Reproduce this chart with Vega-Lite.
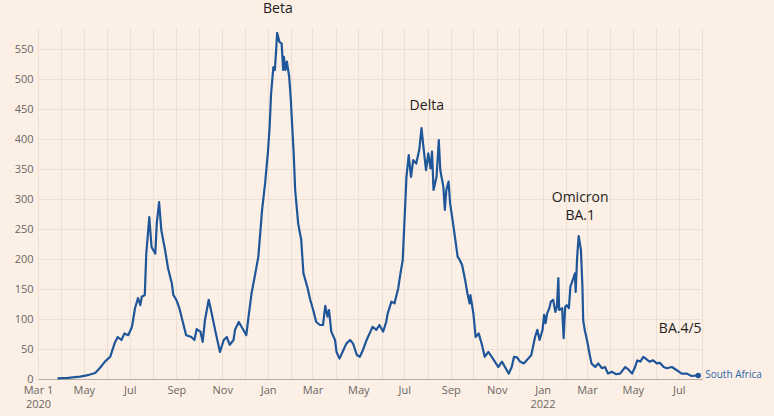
{
  "$schema": "https://vega.github.io/schema/vega-lite/v6.json",
  "autosize": "none",
  "width": 664,
  "height": 351,
  "padding": {"left": 38, "top": 28, "right": 72, "bottom": 37},
  "background": "#fcf0e6",
  "config": {
    "view": {"stroke": null},
    "axis": {"labelFont": "Open Sans", "labelFontSize": 11, "labelColor": "#6b6561", "gridColor": "#eddfd4", "gridWidth": 1, "ticks": false, "title": null}
  },
  "datasets": {
    "series": [
      {"date": "2020-03-27", "value": 1}, {"date": "2020-04-10", "value": 2}, {"date": "2020-04-26", "value": 4}, {"date": "2020-05-08", "value": 7},
      {"date": "2020-05-16", "value": 10}, {"date": "2020-05-22", "value": 18}, {"date": "2020-05-29", "value": 29}, {"date": "2020-06-05", "value": 37},
      {"date": "2020-06-11", "value": 60}, {"date": "2020-06-15", "value": 70}, {"date": "2020-06-20", "value": 65}, {"date": "2020-06-24", "value": 76},
      {"date": "2020-06-29", "value": 73}, {"date": "2020-07-04", "value": 87}, {"date": "2020-07-08", "value": 118}, {"date": "2020-07-12", "value": 135},
      {"date": "2020-07-15", "value": 123}, {"date": "2020-07-17", "value": 137}, {"date": "2020-07-21", "value": 140}, {"date": "2020-07-23", "value": 209},
      {"date": "2020-07-27", "value": 270}, {"date": "2020-07-30", "value": 220}, {"date": "2020-08-04", "value": 209}, {"date": "2020-08-06", "value": 260},
      {"date": "2020-08-09", "value": 295}, {"date": "2020-08-12", "value": 248}, {"date": "2020-08-17", "value": 215}, {"date": "2020-08-21", "value": 184},
      {"date": "2020-08-26", "value": 159}, {"date": "2020-08-28", "value": 140}, {"date": "2020-09-01", "value": 132}, {"date": "2020-09-05", "value": 118},
      {"date": "2020-09-10", "value": 93}, {"date": "2020-09-14", "value": 73}, {"date": "2020-09-21", "value": 70}, {"date": "2020-09-25", "value": 65},
      {"date": "2020-09-28", "value": 83}, {"date": "2020-10-03", "value": 79}, {"date": "2020-10-06", "value": 62}, {"date": "2020-10-09", "value": 98},
      {"date": "2020-10-14", "value": 132}, {"date": "2020-10-18", "value": 109}, {"date": "2020-10-23", "value": 79}, {"date": "2020-10-29", "value": 45},
      {"date": "2020-11-03", "value": 65}, {"date": "2020-11-07", "value": 70}, {"date": "2020-11-11", "value": 57}, {"date": "2020-11-16", "value": 65},
      {"date": "2020-11-18", "value": 82}, {"date": "2020-11-23", "value": 95}, {"date": "2020-11-29", "value": 82}, {"date": "2020-12-03", "value": 73},
      {"date": "2020-12-06", "value": 104}, {"date": "2020-12-10", "value": 143}, {"date": "2020-12-15", "value": 176}, {"date": "2020-12-19", "value": 204},
      {"date": "2020-12-24", "value": 282}, {"date": "2020-12-28", "value": 326}, {"date": "2021-01-01", "value": 382}, {"date": "2021-01-03", "value": 420},
      {"date": "2021-01-05", "value": 476}, {"date": "2021-01-08", "value": 520}, {"date": "2021-01-10", "value": 515}, {"date": "2021-01-12", "value": 554},
      {"date": "2021-01-13", "value": 577}, {"date": "2021-01-16", "value": 562}, {"date": "2021-01-19", "value": 559}, {"date": "2021-01-21", "value": 515},
      {"date": "2021-01-22", "value": 537}, {"date": "2021-01-24", "value": 515}, {"date": "2021-01-26", "value": 529}, {"date": "2021-01-29", "value": 504},
      {"date": "2021-01-31", "value": 470}, {"date": "2021-02-04", "value": 376}, {"date": "2021-02-06", "value": 315}, {"date": "2021-02-10", "value": 259},
      {"date": "2021-02-14", "value": 232}, {"date": "2021-02-17", "value": 176}, {"date": "2021-02-22", "value": 154}, {"date": "2021-02-26", "value": 132},
      {"date": "2021-03-02", "value": 115}, {"date": "2021-03-06", "value": 95}, {"date": "2021-03-11", "value": 90}, {"date": "2021-03-15", "value": 90},
      {"date": "2021-03-18", "value": 122}, {"date": "2021-03-21", "value": 104}, {"date": "2021-03-23", "value": 115}, {"date": "2021-03-26", "value": 79},
      {"date": "2021-03-31", "value": 65}, {"date": "2021-04-02", "value": 45}, {"date": "2021-04-06", "value": 34}, {"date": "2021-04-11", "value": 48},
      {"date": "2021-04-15", "value": 59}, {"date": "2021-04-20", "value": 65}, {"date": "2021-04-24", "value": 59}, {"date": "2021-04-29", "value": 40},
      {"date": "2021-05-03", "value": 37}, {"date": "2021-05-07", "value": 48}, {"date": "2021-05-12", "value": 65}, {"date": "2021-05-16", "value": 76},
      {"date": "2021-05-20", "value": 87}, {"date": "2021-05-25", "value": 82}, {"date": "2021-05-29", "value": 90}, {"date": "2021-06-03", "value": 79},
      {"date": "2021-06-07", "value": 95}, {"date": "2021-06-09", "value": 109}, {"date": "2021-06-14", "value": 129}, {"date": "2021-06-18", "value": 126},
      {"date": "2021-06-23", "value": 151}, {"date": "2021-06-26", "value": 176}, {"date": "2021-06-29", "value": 198}, {"date": "2021-07-01", "value": 254},
      {"date": "2021-07-04", "value": 337}, {"date": "2021-07-07", "value": 373}, {"date": "2021-07-10", "value": 337}, {"date": "2021-07-13", "value": 365},
      {"date": "2021-07-17", "value": 359}, {"date": "2021-07-21", "value": 382}, {"date": "2021-07-24", "value": 418}, {"date": "2021-07-26", "value": 393},
      {"date": "2021-07-30", "value": 348}, {"date": "2021-08-02", "value": 376}, {"date": "2021-08-05", "value": 351}, {"date": "2021-08-07", "value": 379},
      {"date": "2021-08-09", "value": 315}, {"date": "2021-08-13", "value": 337}, {"date": "2021-08-16", "value": 398}, {"date": "2021-08-18", "value": 348},
      {"date": "2021-08-22", "value": 321}, {"date": "2021-08-24", "value": 282}, {"date": "2021-08-26", "value": 315}, {"date": "2021-08-29", "value": 329},
      {"date": "2021-08-31", "value": 293}, {"date": "2021-09-04", "value": 259}, {"date": "2021-09-07", "value": 232}, {"date": "2021-09-10", "value": 204},
      {"date": "2021-09-13", "value": 198}, {"date": "2021-09-16", "value": 190}, {"date": "2021-09-20", "value": 165}, {"date": "2021-09-23", "value": 143},
      {"date": "2021-09-26", "value": 126}, {"date": "2021-09-27", "value": 140}, {"date": "2021-10-01", "value": 109}, {"date": "2021-10-04", "value": 70},
      {"date": "2021-10-08", "value": 76}, {"date": "2021-10-12", "value": 59}, {"date": "2021-10-16", "value": 37}, {"date": "2021-10-21", "value": 45},
      {"date": "2021-10-27", "value": 34}, {"date": "2021-11-03", "value": 20}, {"date": "2021-11-08", "value": 29}, {"date": "2021-11-12", "value": 20},
      {"date": "2021-11-17", "value": 9}, {"date": "2021-11-21", "value": 20}, {"date": "2021-11-24", "value": 37}, {"date": "2021-11-28", "value": 36},
      {"date": "2021-12-02", "value": 29}, {"date": "2021-12-07", "value": 26}, {"date": "2021-12-13", "value": 34}, {"date": "2021-12-17", "value": 40},
      {"date": "2021-12-22", "value": 70}, {"date": "2021-12-25", "value": 82}, {"date": "2021-12-28", "value": 65}, {"date": "2022-01-01", "value": 82},
      {"date": "2022-01-03", "value": 107}, {"date": "2022-01-05", "value": 93}, {"date": "2022-01-07", "value": 109}, {"date": "2022-01-10", "value": 118},
      {"date": "2022-01-12", "value": 129}, {"date": "2022-01-15", "value": 132}, {"date": "2022-01-18", "value": 112}, {"date": "2022-01-20", "value": 120},
      {"date": "2022-01-22", "value": 168}, {"date": "2022-01-23", "value": 115}, {"date": "2022-01-27", "value": 118}, {"date": "2022-01-29", "value": 68},
      {"date": "2022-01-31", "value": 120}, {"date": "2022-02-02", "value": 123}, {"date": "2022-02-05", "value": 118}, {"date": "2022-02-07", "value": 154},
      {"date": "2022-02-11", "value": 168}, {"date": "2022-02-13", "value": 176}, {"date": "2022-02-14", "value": 145}, {"date": "2022-02-16", "value": 204},
      {"date": "2022-02-18", "value": 238}, {"date": "2022-02-21", "value": 215}, {"date": "2022-02-23", "value": 154}, {"date": "2022-02-24", "value": 98},
      {"date": "2022-02-26", "value": 82}, {"date": "2022-03-02", "value": 59}, {"date": "2022-03-04", "value": 45}, {"date": "2022-03-07", "value": 26},
      {"date": "2022-03-12", "value": 20}, {"date": "2022-03-16", "value": 26}, {"date": "2022-03-21", "value": 18}, {"date": "2022-03-25", "value": 20},
      {"date": "2022-03-29", "value": 9}, {"date": "2022-04-03", "value": 12}, {"date": "2022-04-09", "value": 8}, {"date": "2022-04-14", "value": 9},
      {"date": "2022-04-21", "value": 20}, {"date": "2022-04-25", "value": 16}, {"date": "2022-04-30", "value": 9}, {"date": "2022-05-04", "value": 20},
      {"date": "2022-05-07", "value": 31}, {"date": "2022-05-11", "value": 29}, {"date": "2022-05-15", "value": 37}, {"date": "2022-05-19", "value": 33},
      {"date": "2022-05-23", "value": 29}, {"date": "2022-05-28", "value": 31}, {"date": "2022-06-02", "value": 26}, {"date": "2022-06-06", "value": 27},
      {"date": "2022-06-11", "value": 20}, {"date": "2022-06-15", "value": 18}, {"date": "2022-06-22", "value": 20}, {"date": "2022-06-28", "value": 15},
      {"date": "2022-07-05", "value": 9}, {"date": "2022-07-12", "value": 9}, {"date": "2022-07-18", "value": 5}, {"date": "2022-07-27", "value": 6}
    ],
    "notes": [
      {"date": "2021-01-14", "value": 616, "label": "Beta"},
      {"date": "2021-07-31", "value": 455, "label": "Delta"},
      {"date": "2022-02-20", "value": 302, "label": "Omicron"},
      {"date": "2022-02-20", "value": 272, "label": "BA.1"},
      {"date": "2022-07-03", "value": 83, "label": "BA.4/5"}
    ],
    "end": [{"date": "2022-07-27", "value": 6, "label": "South Africa"}]
  },
  "encoding": {
    "x": {
      "field": "date", "type": "temporal",
      "scale": {"type": "utc", "domain": [{"year": 2020, "month": 3, "date": 1, "utc": true}, {"year": 2022, "month": 8, "date": 1, "utc": true}]},
      "axis": {
        "tickCount": {"interval": "month", "step": 1},
        "labelExpr": "utcmonth(datum.value) % 2 == 1 ? '' : (utcyear(datum.value) == 2020 && utcmonth(datum.value) == 2 ? ['Mar 1', '2020'] : (utcyear(datum.value) == 2022 && utcmonth(datum.value) == 0 ? ['Jan', '2022'] : utcFormat(datum.value, '%b')))",
        "labelOverlap": false, "labelFlush": false, "labelBound": false, "labelPadding": 5, "labelLineHeight": 14,
        "domain": true, "domainColor": "#b3aba4", "domainWidth": 1.2
      }
    },
    "y": {
      "field": "value", "type": "quantitative",
      "scale": {"domain": [0, 585], "nice": false},
      "axis": {"values": [0, 50, 100, 150, 200, 250, 300, 350, 400, 450, 500, 550], "domain": false, "labelPadding": 5}
    }
  },
  "layer": [
    {"data": {"name": "series"}, "mark": {"type": "line", "color": "#1f5699", "strokeWidth": 2.2, "strokeJoin": "round"}},
    {"data": {"name": "end"}, "mark": {"type": "point", "filled": true, "color": "#1f5699", "size": 30, "opacity": 1}},
    {"data": {"name": "end"}, "mark": {"type": "text", "align": "left", "dx": 7, "dy": 0, "font": "Open Sans", "fontSize": 10, "color": "#2a66a8"}, "encoding": {"text": {"field": "label"}}},
    {"data": {"name": "notes"}, "mark": {"type": "text", "align": "center", "baseline": "middle", "font": "Open Sans", "fontSize": 14, "color": "#1c1c1c"}, "encoding": {"text": {"field": "label"}}}
  ]
}
